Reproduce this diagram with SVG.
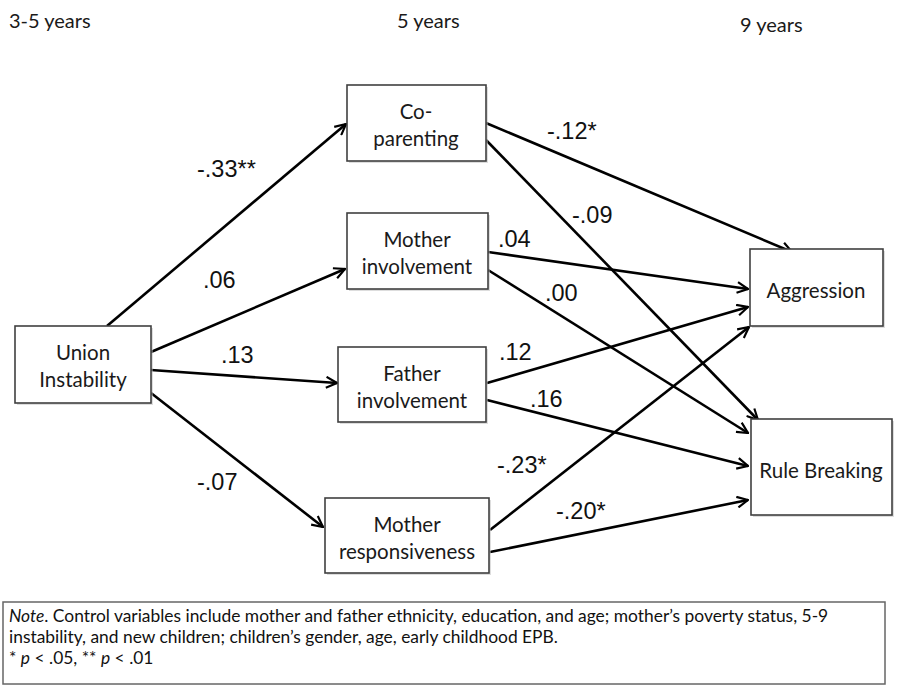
<svg xmlns="http://www.w3.org/2000/svg" width="901" height="686" viewBox="0 0 901 686">
<style>
.box{fill:#fff;stroke:#404040;stroke-width:1.6}
.shadow{fill:#bbb;opacity:0.5}
.nt{font-family:Lato,"Open Sans",sans-serif;font-size:20.5px;fill:#1a1a1a;text-anchor:middle}
.hd{font-family:Lato,"Open Sans",sans-serif;font-size:20px;fill:#1a1a1a}
.lb{font-family:"Liberation Sans",Arial,sans-serif;font-size:23.5px;fill:#111}
.ed{stroke:#000;stroke-width:2.6;fill:none;marker-end:url(#ah)}
.note{font-family:Lato,"Open Sans",sans-serif;font-size:17.4px;fill:#111}
</style>
<defs>
<marker id="ah" viewBox="0 0 12 12" refX="11" refY="6" markerWidth="5" markerHeight="5" markerUnits="strokeWidth" orient="auto">
<path d="M1,1 L11,6 L1,11" fill="none" stroke="#000" stroke-width="2"/>
</marker>
</defs>
<rect width="901" height="686" fill="#fff"/>
<g id="headers">
<text class="hd" x="9" y="28">3-5 years</text>
<text class="hd" x="397" y="28">5 years</text>
<text class="hd" x="740" y="32">9 years</text>
</g>
<g id="connectors">
<line class="ed" x1="107" y1="326" x2="346" y2="124"/>
<line class="ed" x1="151" y1="352" x2="345" y2="269"/>
<line class="ed" x1="151" y1="370" x2="337" y2="383"/>
<line class="ed" x1="151" y1="393" x2="323" y2="527"/>
<line class="ed" x1="486" y1="123" x2="792" y2="252"/>
<line class="ed" x1="486" y1="140" x2="758" y2="420"/>
<line class="ed" x1="488" y1="252" x2="748" y2="289"/>
<line class="ed" x1="488" y1="270" x2="748" y2="433"/>
<line class="ed" x1="487" y1="383" x2="748" y2="307"/>
<line class="ed" x1="487" y1="400" x2="748" y2="466"/>
<line class="ed" x1="490" y1="530" x2="749" y2="327"/>
<line class="ed" x1="490" y1="552" x2="748" y2="500"/>
</g>
<g id="labels">
<text class="lb" x="197" y="177">-.33**</text>
<text class="lb" x="203" y="288">.06</text>
<text class="lb" x="221" y="363">.13</text>
<text class="lb" x="197" y="490">-.07</text>
<text class="lb" x="547" y="139">-.12*</text>
<text class="lb" x="572" y="223">-.09</text>
<text class="lb" x="498" y="247">.04</text>
<text class="lb" x="545" y="301">.00</text>
<text class="lb" x="499" y="360">.12</text>
<text class="lb" x="530" y="407">.16</text>
<text class="lb" x="497" y="473">-.23*</text>
<text class="lb" x="556" y="519">-.20*</text>
</g>
<g id="union">
<rect class="shadow" x="17" y="328" width="136" height="77"/>
<rect class="box" x="15" y="326" width="136" height="77"/>
<text class="nt" x="83" y="360">Union</text>
<text class="nt" x="83" y="387">Instability</text>
</g>
<g id="coparenting">
<rect class="shadow" x="349" y="87" width="139" height="76"/>
<rect class="box" x="347" y="85" width="139" height="76"/>
<text class="nt" x="416" y="119">Co-</text>
<text class="nt" x="416" y="146">parenting</text>
</g>
<g id="motherinv">
<rect class="shadow" x="349" y="215" width="141" height="76"/>
<rect class="box" x="347" y="213" width="141" height="76"/>
<text class="nt" x="417" y="247">Mother</text>
<text class="nt" x="417" y="274">involvement</text>
</g>
<g id="fatherinv">
<rect class="shadow" x="340" y="349" width="148" height="75"/>
<rect class="box" x="338" y="347" width="148" height="75"/>
<text class="nt" x="412" y="381">Father</text>
<text class="nt" x="412" y="408">involvement</text>
</g>
<g id="motherresp">
<rect class="shadow" x="327" y="500" width="164" height="75"/>
<rect class="box" x="325" y="498" width="164" height="75"/>
<text class="nt" x="407" y="532">Mother</text>
<text class="nt" x="407" y="559">responsiveness</text>
</g>
<g id="aggression">
<rect class="shadow" x="752" y="251" width="133" height="77"/>
<rect class="box" x="750" y="249" width="133" height="77"/>
<text class="nt" x="816" y="298">Aggression</text>
</g>
<g id="rulebreaking">
<rect class="shadow" x="753" y="421" width="141" height="96"/>
<rect class="box" x="751" y="419" width="141" height="96"/>
<text class="nt" x="821" y="478">Rule Breaking</text>
</g>
<g id="note">
<rect x="3" y="602" width="882" height="82" fill="#fff" stroke="#666" stroke-width="1.5"/>
<text class="note" x="9" y="622"><tspan font-style="italic">Note</tspan>. Control variables include mother and father ethnicity, education, and age; mother’s poverty status, 5-9</text>
<text class="note" x="9" y="643">instability, and new children; children’s gender, age, early childhood EPB.</text>
<text class="note" x="9" y="664">* <tspan font-style="italic">p</tspan> &lt; .05, ** <tspan font-style="italic">p</tspan> &lt; .01</text>
</g>
</svg>
